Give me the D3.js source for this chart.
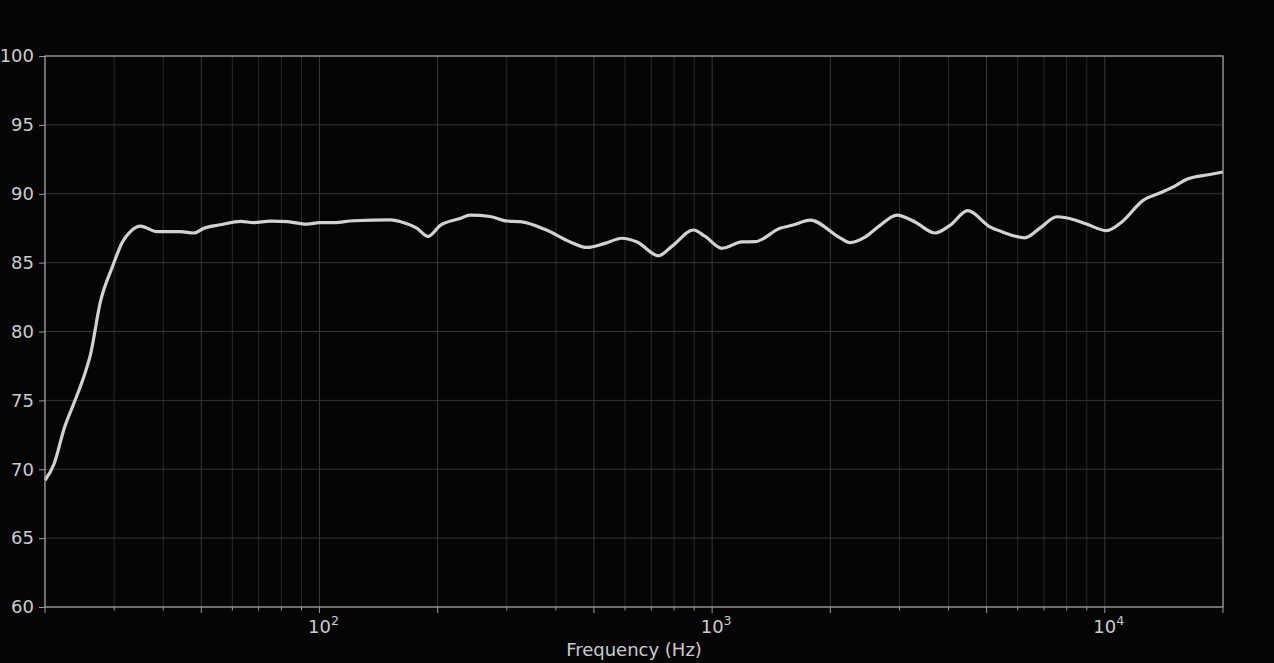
<!DOCTYPE html>
<html>
<head>
<meta charset="utf-8">
<script src="https://cdn.jsdelivr.net/npm/d3@7"></script>
<style>
  html, body { margin: 0; padding: 0; background: #050505; }
  svg { display: block; font-family: "DejaVu Sans", sans-serif; }
</style>
</head>
<body>
<div id="chart"></div>
<script>
// Frequency response curve.
var freqs = [20, 21.1, 22.4, 23.7, 25.1, 26.1, 27.7, 29.7, 31.5, 33, 35, 38.6, 44.3, 47.9, 50.8, 56, 63, 68, 75, 83, 93,
    100, 109, 122, 152, 161, 177, 189, 203, 228, 242, 272, 300, 325, 376, 435, 480, 534, 589, 644, 730, 791, 896, 960,
    1059, 1190, 1287, 1489, 1607, 1776, 2117, 2244, 2451, 2676, 2956, 3285, 3694, 4033, 4474, 5098, 5461, 6258, 6833,
    7550, 8388, 8984, 10118, 11050, 12497, 13803, 15075, 16172, 18505, 20000];
var levels = [69.2, 70.4, 73.0, 74.8, 76.7, 78.3, 82.2, 84.7, 86.5, 87.25, 87.65, 87.25, 87.25, 87.15, 87.5, 87.75, 88.0, 87.9, 88.02, 87.97, 87.8,
    87.9, 87.9, 88.04, 88.1, 87.97, 87.5, 86.9, 87.7, 88.2, 88.45, 88.35, 88.02, 87.97, 87.4, 86.5, 86.1, 86.4, 86.77, 86.5, 85.5, 86.2, 87.37, 86.9,
    86.04, 86.5, 86.52, 87.49, 87.73, 88.09, 86.8, 86.45, 86.85, 87.7, 88.45, 87.95, 87.15, 87.7, 88.77, 87.6, 87.25, 86.8, 87.5,
    88.33, 88.1, 87.8, 87.32, 87.95, 89.5, 90.05, 90.55, 91.05, 91.4, 91.58];
var yTicks = [60, 65, 70, 75, 80, 85, 90, 95, 100];
var decadeTicks = [100, 1000, 10000];
var decadeExp = ["2", "3", "4"];

(function () {
    var width = 1274, height = 663;
    var m = { top: 56, right: 51, bottom: 56, left: 45 };
    var svg = d3.select("#chart").append("svg").attr("width", width).attr("height", height);
    svg.append("rect").attr("width", width).attr("height", height).attr("fill", "#050505");

    var x = d3.scaleLog().domain([20, 20000]).range([m.left, width - m.right]);
    var y = d3.scaleLinear().domain([60, 100]).range([height - m.bottom, m.top]);

    // log ticks: 1,2,5 are "major", rest minor
    var allTicks = [], majorTicks = [];
    [10, 100, 1000, 10000].forEach(function (dec) {
        for (var k = 1; k <= 9; k++) {
            var f = dec * k;
            if (f < 20 || f > 20000) continue;
            allTicks.push(f);
            if (k === 1 || k === 2 || k === 5) majorTicks.push(f);
        }
    });
    var minorTicks = allTicks.filter(function (f) { return majorTicks.indexOf(f) < 0; });

    var grid = svg.append("g");
    grid.selectAll("line.vmin").data(minorTicks).enter().append("line")
        .attr("x1", function (d) { return x(d); }).attr("x2", function (d) { return x(d); })
        .attr("y1", y(60)).attr("y2", y(100)).attr("stroke", "#2a2a2a").attr("stroke-width", 1);
    grid.selectAll("line.vmaj").data(majorTicks).enter().append("line")
        .attr("x1", function (d) { return x(d); }).attr("x2", function (d) { return x(d); })
        .attr("y1", y(60)).attr("y2", y(100)).attr("stroke", "#3a3a3a").attr("stroke-width", 1);
    grid.selectAll("line.h").data(yTicks).enter().append("line")
        .attr("x1", x(20)).attr("x2", x(20000))
        .attr("y1", function (d) { return y(d); }).attr("y2", function (d) { return y(d); })
        .attr("stroke", "#353535").attr("stroke-width", 1);

    var line = d3.line()
        .x(function (d) { return x(d[0]); })
        .y(function (d) { return y(d[1]); })
        .curve(d3.curveMonotoneX);
    svg.append("path").datum(d3.zip(freqs, levels))
        .attr("d", line).attr("fill", "none")
        .attr("stroke", "#d2d2d2").attr("stroke-width", 3.2).attr("stroke-linejoin", "round");

    // frame
    svg.append("rect").attr("x", x(20)).attr("y", y(100))
        .attr("width", x(20000) - x(20)).attr("height", y(60) - y(100))
        .attr("fill", "none").attr("stroke", "#9a9a9a").attr("stroke-width", 1.3);

    var tc = "#cccccc";
    // y axis
    var ya = svg.append("g").attr("transform", "translate(" + m.left + ",0)")
        .call(d3.axisLeft(y).tickValues(yTicks).tickSize(6).tickPadding(5).tickFormat(d3.format("d")));
    ya.select(".domain").remove();
    ya.selectAll("line").attr("stroke", "#9a9a9a");
    ya.selectAll("text").attr("fill", tc).style("font-size", "18px").style("font-family", "DejaVu Sans");

    // x axis ticks
    var xb = y(60);
    svg.append("g").selectAll("line").data(majorTicks).enter().append("line")
        .attr("x1", function (d) { return x(d); }).attr("x2", function (d) { return x(d); })
        .attr("y1", xb).attr("y2", xb + 6).attr("stroke", "#9a9a9a");
    svg.append("g").selectAll("line").data(minorTicks).enter().append("line")
        .attr("x1", function (d) { return x(d); }).attr("x2", function (d) { return x(d); })
        .attr("y1", xb).attr("y2", xb + 3.5).attr("stroke", "#9a9a9a");

    var lab = svg.append("g").selectAll("text").data(decadeTicks).enter().append("text")
        .attr("x", function (d) { return x(d) + 4; }).attr("y", xb + 26)
        .attr("text-anchor", "middle").attr("fill", tc).style("font-size", "18px");
    lab.append("tspan").text("10");
    lab.append("tspan").attr("dy", -8).style("font-size", "12.5px").text(function (d, i) { return decadeExp[i]; });

    svg.append("text").attr("x", (x(20) + x(20000)) / 2).attr("y", 656)
        .attr("text-anchor", "middle").attr("fill", tc).style("font-size", "18px")
        .text("Frequency (Hz)");
})();
</script>
</body>
</html>
